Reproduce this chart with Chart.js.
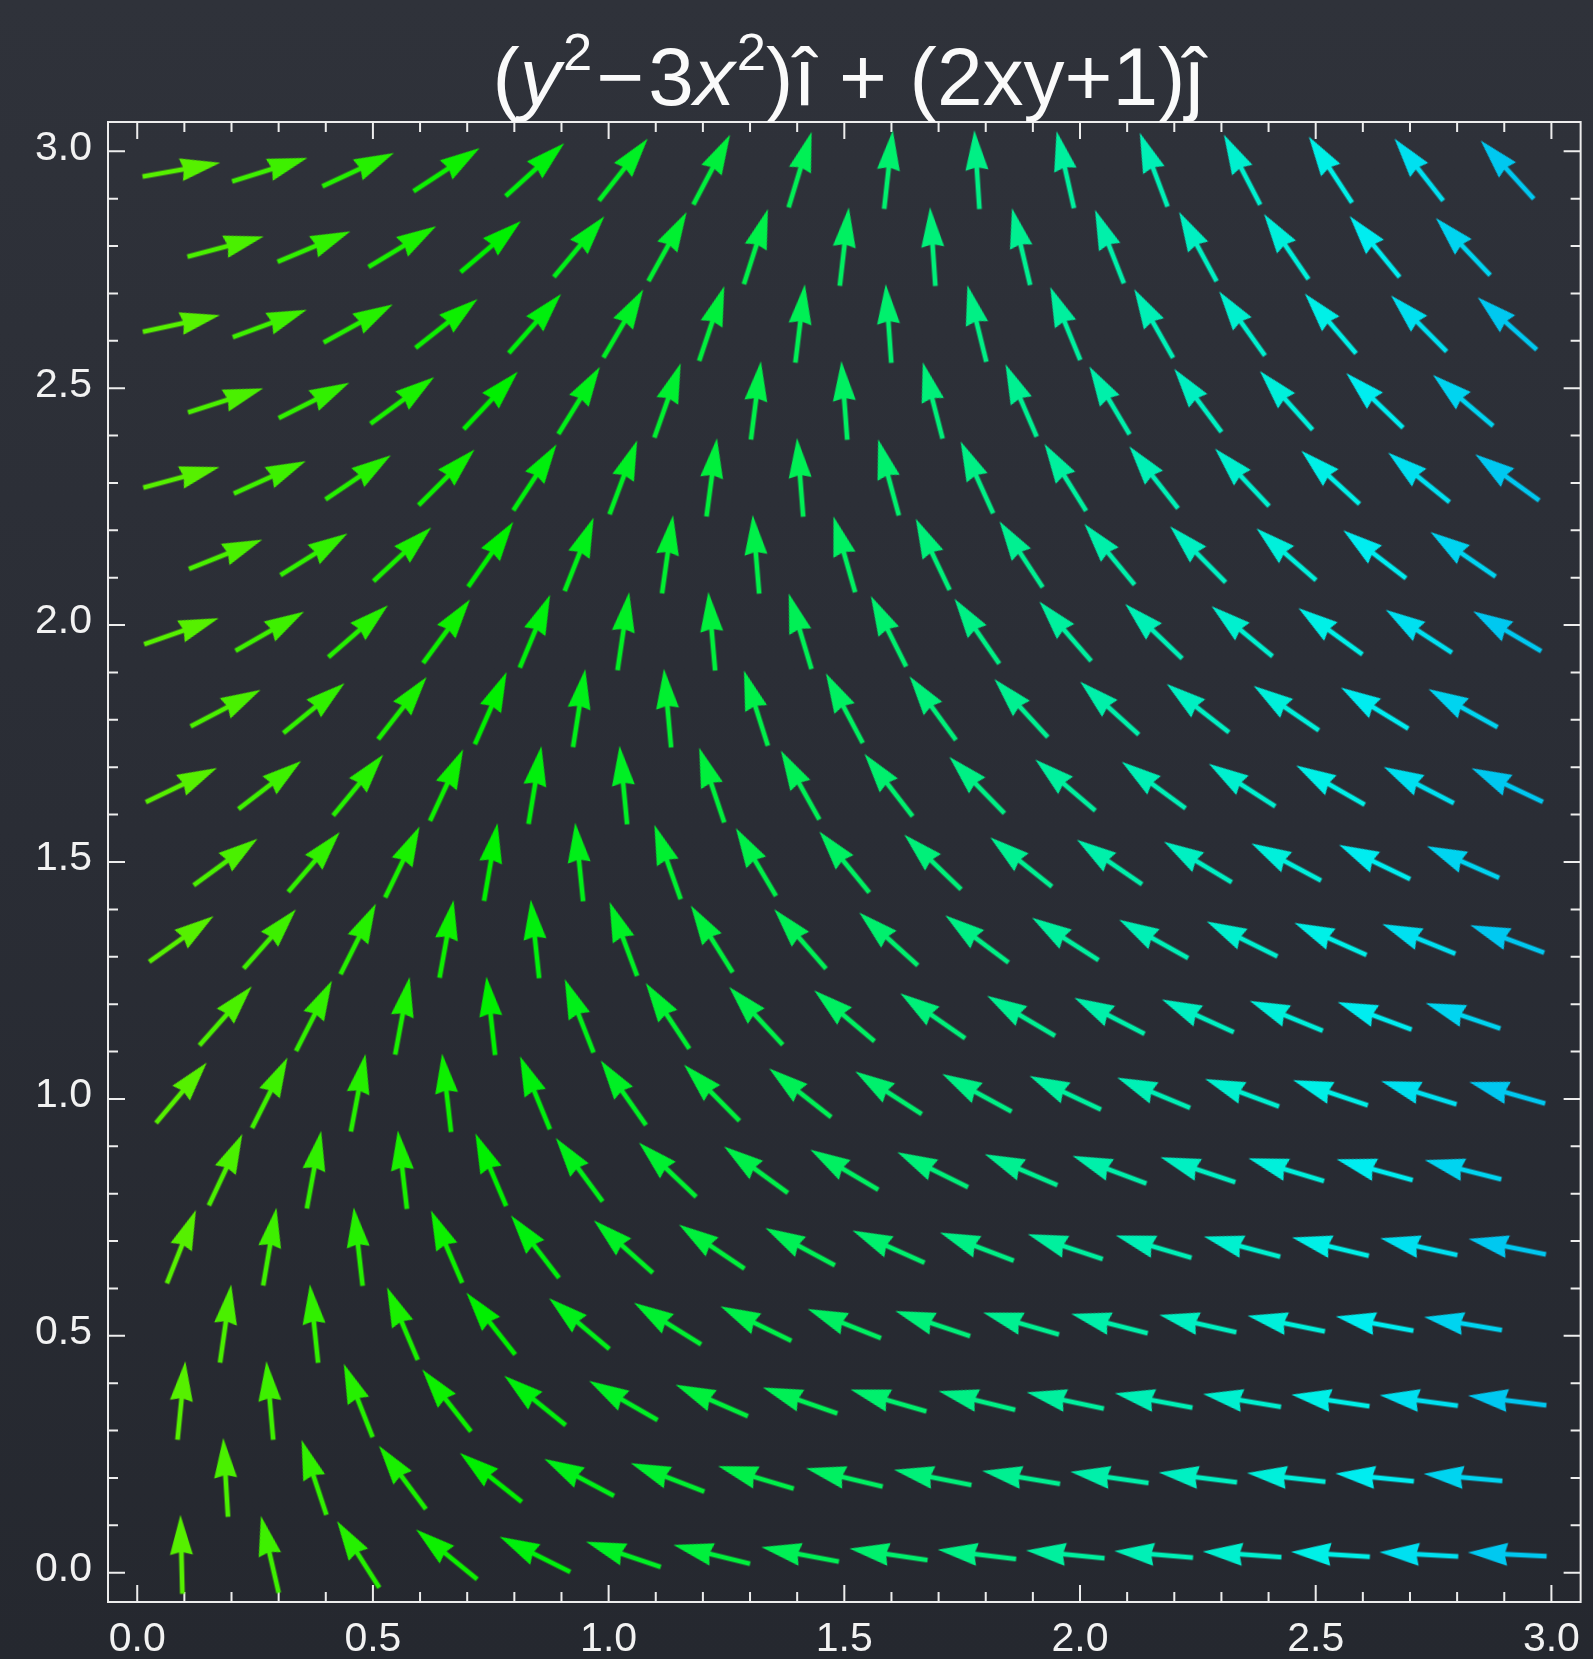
<!DOCTYPE html>
<html>
<head>
<meta charset="utf-8">
<script src="https://cdn.jsdelivr.net/npm/chart.js@4.4.1/dist/chart.umd.min.js"></script>
<style>
html,body{margin:0;padding:0;width:1593px;height:1659px;overflow:hidden;}
body{background:linear-gradient(180deg,#2f323a 0%,#2a2d35 50%,#25282f 100%);}
#wrap{position:relative;width:1593px;height:1659px;}
#c{position:absolute;left:0;top:0;}
#title{position:absolute;left:848px;top:36px;transform:translateX(-50%);font-family:"Liberation Sans",Arial,Helvetica,sans-serif;font-size:82px;line-height:1;color:#fafafa;white-space:nowrap;}
#title i{font-style:italic;}
#title .sup{font-size:0.64em;position:relative;top:-0.66em;margin-left:0.04em;}
#title .op{margin:0 0.05em;}
</style>
</head>
<body>
<div id="wrap">
<canvas id="c" width="1593" height="1659"></canvas>
<div id="title">(<i>y</i><span class="sup">2</span><span class="op">−</span>3<i>x</i><span class="sup">2</span>)î + (2xy+1)ĵ</div>
</div>
<script>
// ---- grid of sample points (staggered rows) ----
const evenRowX = [0.09375,0.28125,0.46875,0.65625,0.84375,1.03125,1.21875,1.40625,1.59375,1.78125,1.96875,2.15625,2.34375,2.53125,2.71875,2.90625];
const oddRowX = [0.1875,0.375,0.5625,0.75,0.9375,1.125,1.3125,1.5,1.6875,1.875,2.0625,2.25,2.4375,2.625,2.8125];
const rowY = [0.0386,0.2010,0.3634,0.5257,0.6881,0.8505,1.0129,1.1753,1.3376,1.5000,1.6624,1.8248,1.9871,2.1495,2.3119,2.4743,2.6367,2.7990,2.9614];

// ---- horizontal component of each arrow, row by row ----
const fieldU = [
[-0.025,-0.236,-0.658,-1.291,-2.134,-3.189,-4.455,-5.931,-7.619,-9.517,-11.626,-13.947,-16.478,-19.220,-22.173,-25.337],
[-0.065,-0.382,-0.909,-1.647,-2.596,-3.757,-5.128,-6.710,-8.503,-10.507,-12.721,-15.147,-17.784,-20.632,-23.690],
[0.106,-0.105,-0.527,-1.160,-2.004,-3.058,-4.324,-5.801,-7.488,-9.387,-11.496,-13.816,-16.347,-19.090,-22.043,-25.207],
[0.171,-0.146,-0.673,-1.411,-2.360,-3.521,-4.892,-6.474,-8.267,-10.271,-12.485,-14.911,-17.548,-20.396,-23.454],
[0.447,0.236,-0.186,-0.819,-1.662,-2.717,-3.983,-5.459,-7.147,-9.045,-11.154,-13.475,-16.006,-18.748,-21.701,-24.865],
[0.618,0.302,-0.226,-0.964,-1.913,-3.074,-4.445,-6.027,-7.820,-9.824,-12.038,-14.464,-17.101,-19.949,-23.007],
[1.000,0.789,0.367,-0.266,-1.110,-2.164,-3.430,-4.907,-6.594,-8.493,-10.602,-12.922,-15.454,-18.196,-21.149,-24.313],
[1.276,0.959,0.432,-0.306,-1.255,-2.416,-3.787,-5.369,-7.162,-9.166,-11.380,-13.806,-16.443,-19.291,-22.349],
[1.763,1.552,1.130,0.497,-0.347,-1.401,-2.667,-4.143,-5.831,-7.729,-9.839,-12.159,-14.690,-17.433,-20.386,-23.550],
[2.145,1.828,1.301,0.563,-0.387,-1.547,-2.918,-4.500,-6.293,-8.297,-10.512,-12.938,-15.574,-18.422,-21.481],
[2.737,2.526,2.104,1.472,0.628,-0.427,-1.693,-3.169,-4.857,-6.755,-8.864,-11.185,-13.716,-16.458,-19.411,-22.575],
[3.224,2.908,2.381,1.642,0.693,-0.467,-1.838,-3.420,-5.213,-7.217,-9.432,-11.858,-14.494,-17.342,-20.401],
[3.922,3.711,3.289,2.657,1.813,0.758,-0.508,-1.984,-3.672,-5.570,-7.679,-10.000,-12.531,-15.273,-18.226,-21.390],
[4.515,4.199,3.671,2.933,1.984,0.824,-0.548,-2.130,-3.923,-5.927,-8.141,-10.567,-13.204,-16.052,-19.110],
[5.319,5.108,4.686,4.053,3.209,2.155,0.889,-0.588,-2.275,-4.174,-6.283,-8.603,-11.135,-13.877,-16.830,-19.994],
[6.017,5.700,5.173,4.435,3.486,2.325,0.954,-0.628,-2.421,-4.425,-6.640,-9.065,-11.702,-14.550,-17.608],
[6.926,6.715,6.293,5.660,4.817,3.762,2.496,1.020,-0.668,-2.566,-4.676,-6.996,-9.527,-12.270,-15.223,-18.387],
[7.729,7.413,6.885,6.147,5.198,4.038,2.666,1.084,-0.709,-2.713,-4.927,-7.353,-9.990,-12.838,-15.896],
[8.744,8.533,8.111,7.478,6.634,5.580,4.314,2.837,1.150,-0.749,-2.858,-5.178,-7.710,-10.452,-13.405,-16.569]
];

// ---- vertical component of each arrow, row by row ----
const fieldV = [
[1.007,1.022,1.036,1.051,1.065,1.080,1.094,1.109,1.123,1.138,1.152,1.167,1.181,1.195,1.210,1.224],
[1.075,1.151,1.226,1.302,1.377,1.452,1.528,1.603,1.678,1.754,1.829,1.905,1.980,2.055,2.131],
[1.068,1.204,1.341,1.477,1.613,1.750,1.886,2.022,2.158,2.295,2.431,2.567,2.704,2.840,2.976,3.112],
[1.197,1.394,1.591,1.789,1.986,2.183,2.380,2.577,2.774,2.971,3.169,3.366,3.563,3.760,3.957],
[1.129,1.387,1.645,1.903,2.161,2.419,2.677,2.935,3.193,3.451,3.709,3.967,4.226,4.484,4.742,5.000],
[1.319,1.638,1.957,2.276,2.595,2.914,3.233,3.552,3.870,4.189,4.508,4.827,5.146,5.465,5.784],
[1.190,1.570,1.950,2.329,2.709,3.089,3.469,3.849,4.229,4.608,4.988,5.368,5.748,6.128,6.508,6.888],
[1.441,1.881,2.322,2.763,3.204,3.644,4.085,4.526,4.967,5.407,5.848,6.289,6.730,7.170,7.611],
[1.251,1.752,2.254,2.756,3.257,3.759,4.260,4.762,5.264,5.765,6.267,6.768,7.270,7.772,8.273,8.775],
[1.563,2.125,2.688,3.250,3.813,4.375,4.938,5.500,6.063,6.625,7.188,7.750,8.313,8.875,9.438],
[1.312,1.935,2.559,3.182,3.805,4.429,5.052,5.676,6.299,6.922,7.546,8.169,8.793,9.416,10.039,10.663],
[1.684,2.369,3.053,3.737,4.422,5.106,5.790,6.474,7.159,7.843,8.527,9.212,9.896,10.580,11.265],
[1.373,2.118,2.863,3.608,4.353,5.098,5.844,6.589,7.334,8.079,8.824,9.569,10.315,11.060,11.805,12.550],
[1.806,2.612,3.418,4.224,5.030,5.836,6.642,7.449,8.255,9.061,9.867,10.673,11.479,12.285,13.091],
[1.434,2.300,3.167,4.034,4.901,5.768,6.635,7.502,8.369,9.236,10.103,10.970,11.837,12.704,13.571,14.438],
[1.928,2.856,3.784,4.711,5.639,6.567,7.495,8.423,9.351,10.279,11.206,12.134,13.062,13.990,14.918],
[1.494,2.483,3.472,4.461,5.449,6.438,7.427,8.416,9.404,10.393,11.382,12.371,13.360,14.348,15.337,16.326],
[2.050,3.099,4.149,5.199,6.248,7.298,8.347,9.397,10.447,11.496,12.546,13.596,14.645,15.695,16.744],
[1.555,2.666,3.776,4.887,5.997,7.108,8.218,9.329,10.439,11.550,12.661,13.771,14.882,15.992,17.103,18.213]
];

// ---- axis ticks ----
const tickValues = [0,0.5,1,1.5,2,2.5,3];
const tickLabels = ['0.0','0.5','1.0','1.5','2.0','2.5','3.0'];
const minorTickValues = [0.1,0.2,0.3,0.4,0.6,0.7,0.8,0.9,1.1,1.2,1.3,1.4,1.6,1.7,1.8,1.9,2.1,2.2,2.3,2.4,2.6,2.7,2.8,2.9];

// ---- build points ----
const points = [];
rowY.forEach((y, j) => {
  const xs = (j % 2 === 0) ? evenRowX : oddRowX;
  xs.forEach((x, i) => points.push({x: x, y: y, u: fieldU[j][i], v: fieldV[j][i]}));
});

// ---- arrow glyphs ----
const AX = {w: 84, h: 26, len: 79, head: 40, half: 11.4, notch: 3, shaft: 4.8};
const arrowCache = {};
function arrowColor(x) { return 'hsl(' + (95.5 + 32.5 * x).toFixed(1) + ',100%,47%)'; }
function arrowImage(x) {
  const key = x.toFixed(5);
  if (arrowCache[key]) return arrowCache[key];
  const c = document.createElement('canvas');
  c.width = AX.w; c.height = AX.h;
  const g = c.getContext('2d');
  const cx = AX.w / 2, cy = AX.h / 2;
  const tail = cx - AX.len / 2, tip = cx + AX.len / 2, base = tip - AX.head;
  g.fillStyle = arrowColor(x);
  g.fillRect(tail, cy - AX.shaft / 2, base + AX.notch + 1 - tail, AX.shaft);
  g.beginPath();
  g.moveTo(tip, cy);
  g.lineTo(base, cy - AX.half);
  g.lineTo(base + AX.notch, cy);
  g.lineTo(base, cy + AX.half);
  g.closePath();
  g.fill();
  arrowCache[key] = c;
  return c;
}

// ---- frame with inward ticks on all four sides ----
const framePlugin = {
  id: 'frame',
  beforeDatasetsDraw(chart) {
    const {ctx, chartArea: a, scales} = chart;
    const sx = scales.x, sy = scales.y;
    ctx.save();
    ctx.strokeStyle = '#ededed';
    ctx.lineWidth = 2;
    ctx.strokeRect(a.left, a.top, a.right - a.left, a.bottom - a.top);
    const drawTicks = (vals, len) => {
      ctx.beginPath();
      vals.forEach(v => {
        const px = sx.getPixelForValue(v);
        ctx.moveTo(px, a.bottom); ctx.lineTo(px, a.bottom - len);
        ctx.moveTo(px, a.top); ctx.lineTo(px, a.top + len);
        const py = sy.getPixelForValue(v);
        ctx.moveTo(a.left, py); ctx.lineTo(a.left + len, py);
        ctx.moveTo(a.right, py); ctx.lineTo(a.right - len, py);
      });
      ctx.stroke();
    };
    drawTicks(tickValues, 17);
    drawTicks(minorTickValues, 10);
    ctx.restore();
  }
};

const tickFont = {family: '"Liberation Sans", Arial, Helvetica, sans-serif', size: 41};
function setTicks(scale) { scale.ticks = tickValues.map(v => ({value: v})); }

new Chart(document.getElementById('c'), {
  type: 'scatter',
  data: {
    datasets: [{
      data: points,
      showLine: false,
      pointRadius: 1,
      pointHoverRadius: 1,
      pointStyle: (ctx) => ctx.raw ? arrowImage(ctx.raw.x) : 'circle',
      pointRotation: (ctx) => ctx.raw ? -Math.atan2(ctx.raw.v, ctx.raw.u) * 180 / Math.PI : 0,
      clip: false
    }]
  },
  options: {
    responsive: false,
    devicePixelRatio: 1,
    animation: false,
    events: [],
    layout: {padding: {left: 0, right: 5, top: 122, bottom: 0}},
    plugins: {legend: {display: false}, title: {display: false}, tooltip: {enabled: false}},
    scales: {
      x: {
        type: 'linear', min: -0.062, max: 3.062,
        afterBuildTicks: setTicks,
        afterFit: (s) => { s.height = 57; },
        grid: {display: false, drawTicks: false},
        border: {display: false},
        ticks: {
          callback: (v, i) => tickLabels[i],
          font: tickFont, color: '#f2f2f2', padding: 13, maxRotation: 0, autoSkip: false
        }
      },
      y: {
        type: 'linear', min: -0.062, max: 3.062,
        afterBuildTicks: setTicks,
        afterFit: (s) => { s.width = 108; },
        grid: {display: false, drawTicks: false},
        border: {display: false},
        ticks: {
          callback: (v, i) => tickLabels[i],
          font: tickFont, color: '#f2f2f2', padding: 16, labelOffset: -3, autoSkip: false
        }
      }
    }
  },
  plugins: [framePlugin]
});
</script>
</body>
</html>
